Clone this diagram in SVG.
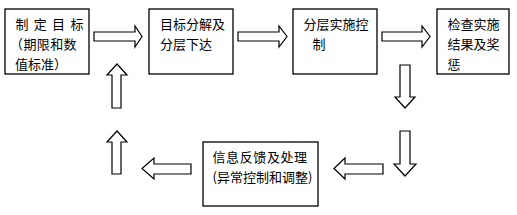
<svg xmlns="http://www.w3.org/2000/svg" width="517" height="215" viewBox="0 0 517 215">
<style>
.box{fill:#fff;stroke:#000;stroke-width:1.3}
.arr{fill:#fff;stroke:#000;stroke-width:1.2;stroke-linejoin:miter}
text{font-family:"Noto Sans CJK SC","Noto Sans",sans-serif;font-size:13px;fill:#000}
</style>
<rect width="517" height="215" fill="#fff"/>
<g id="n1"><rect class="box" x="5" y="9" width="84" height="65"/>
<text x="15.5" y="29" letter-spacing="1.2">制 定 目 标</text>
<text x="10" y="49" letter-spacing="0.4">（期限和数</text>
<text x="15" y="69">值标准）</text></g>
<g id="n2"><rect class="box" x="149" y="9" width="84" height="65"/>
<text x="160" y="29">目标分解及</text>
<text x="160" y="49">分层下达</text></g>
<g id="n3"><rect class="box" x="293" y="9" width="84" height="65"/>
<text x="303.5" y="29">分层实施控</text>
<text x="312.5" y="49">制</text></g>
<g id="n4"><rect class="box" x="437" y="9" width="72" height="65"/>
<text x="447.5" y="29">检查实施</text>
<text x="447.5" y="49">结果及奖</text>
<text x="447.5" y="69">惩</text></g>
<g id="n5"><rect class="box" x="203" y="142" width="115" height="64"/>
<text x="212.5" y="162" letter-spacing="0.6">信息反馈及处理</text>
<text x="212.5" y="182">(异常控制和调整)</text></g>
<g id="connectors">
<polygon class="arr" points="94,32 135,32 135,26 142,36.5 135,47 135,41 94,41"/>
<polygon class="arr" points="238,32 279,32 279,26 287,36.5 279,47 279,41 238,41"/>
<polygon class="arr" points="382,32 422,32 422,26 430,36.5 422,47 422,41 382,41"/>
<polygon class="arr" points="400,65 410,65 410,97 415,97 405,108 395,97 400,97"/>
<polygon class="arr" points="400,131 410,131 410,164 416,164 405,176 394,164 400,164"/>
<polygon class="arr" points="383,164 383,174 345,174 345,179 334,168.5 345,158 345,164"/>
<polygon class="arr" points="191,164 191,174 154,174 154,179 142,168.5 154,158 154,164"/>
<polygon class="arr" points="112,108 112,75 107,75 117,64 127,75 121,75 121,108"/>
<polygon class="arr" points="112,174 112,142 107,142 117,131 127,142 121,142 121,174"/>
</g>
</svg>
